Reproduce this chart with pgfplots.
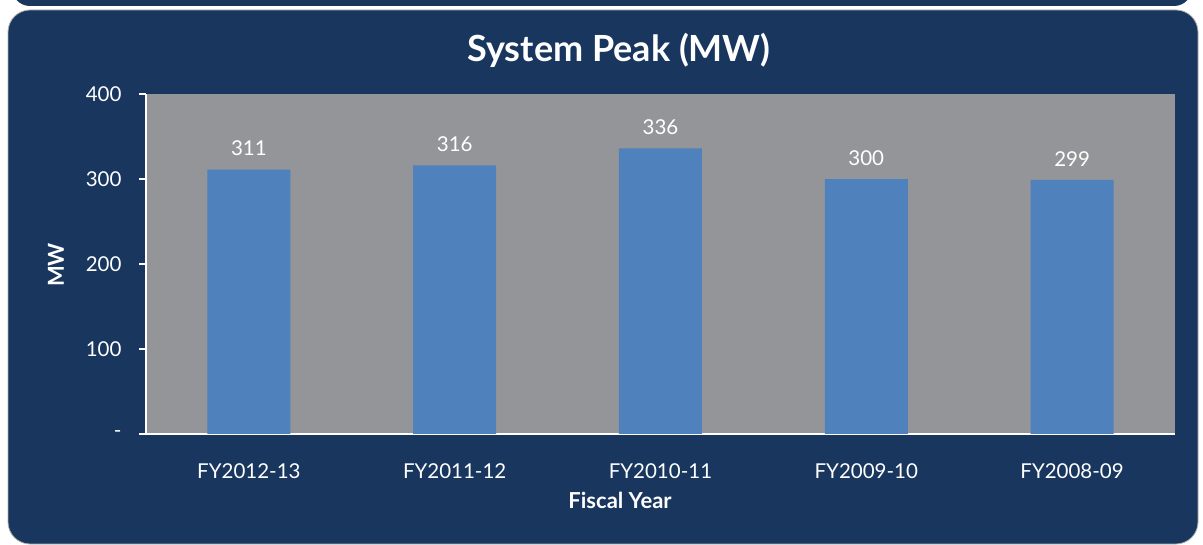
\documentclass[border=0pt]{standalone}
\usepackage{pgfplots}
\pgfplotsset{compat=1.18}
\usepackage{fontspec}
\setmainfont{Lato}
\definecolor{navy}{HTML}{18365E}
\definecolor{plotgray}{HTML}{939598}
\definecolor{barblue}{HTML}{4F81BD}
\begin{document}
\begin{tikzpicture}[x=1pt,y=1pt]
\path[use as bounding box] (0,0) rectangle (1203,544);
\fill[white] (0,0) rectangle (1203,544);
% top previous panel
\begin{scope}
\clip (0,0) rectangle (1203,544);
\fill[navy, rounded corners=18pt] (12,538) rectangle (1192,600);
\draw[gray!60, line width=0.8pt, fill=navy, rounded corners=22pt] (8,0) rectangle (1198,534);
\end{scope}
\begin{axis}[
  at={(146pt,110pt)}, anchor=south west,
  width=1029pt, height=340pt, scale only axis,
  xmin=-0.5, xmax=4.5, ymin=0, ymax=400,
  ytick={0,100,200,300,400},
  yticklabels={-,100,200,300,400},
  xtick={0,1,2,3,4},
  xticklabels={FY2012-13,FY2011-12,FY2010-11,FY2009-10,FY2008-09},
  axis lines*=left,
  axis line style={white, line width=1.5pt},
  axis background/.style={fill=plotgray},
  tick align=outside,
  major tick length=7pt,
  ytick style={white, line width=1.2pt},
  xtick style={draw=none},
  tick label style={white, font=\fontsize{20.5}{24}\selectfont},
  /pgf/number format/assume math mode=true,
  yticklabel style={xshift=-14pt},
  xticklabel style={yshift=-19pt},
  ybar, bar width=83pt,
  nodes near coords,
  every node near coord/.append style={white, font=\fontsize{20.5}{24}\selectfont, yshift=10pt},
  clip=false,
]
\addplot[fill=barblue, draw=none] coordinates {(0,311) (1,316) (2,336) (3,300) (4,299)};
\end{axis}
\node[white, font=\bfseries\fontsize{36}{40}\selectfont] at (619,494) {System Peak (MW)};
\node[white, font=\bfseries\fontsize{22}{26}\selectfont] at (620,44) {Fiscal Year};
\node[white, font=\bfseries\fontsize{22}{26}\selectfont, rotate=90] at (56,279) {MW};
\end{tikzpicture}
\end{document}
